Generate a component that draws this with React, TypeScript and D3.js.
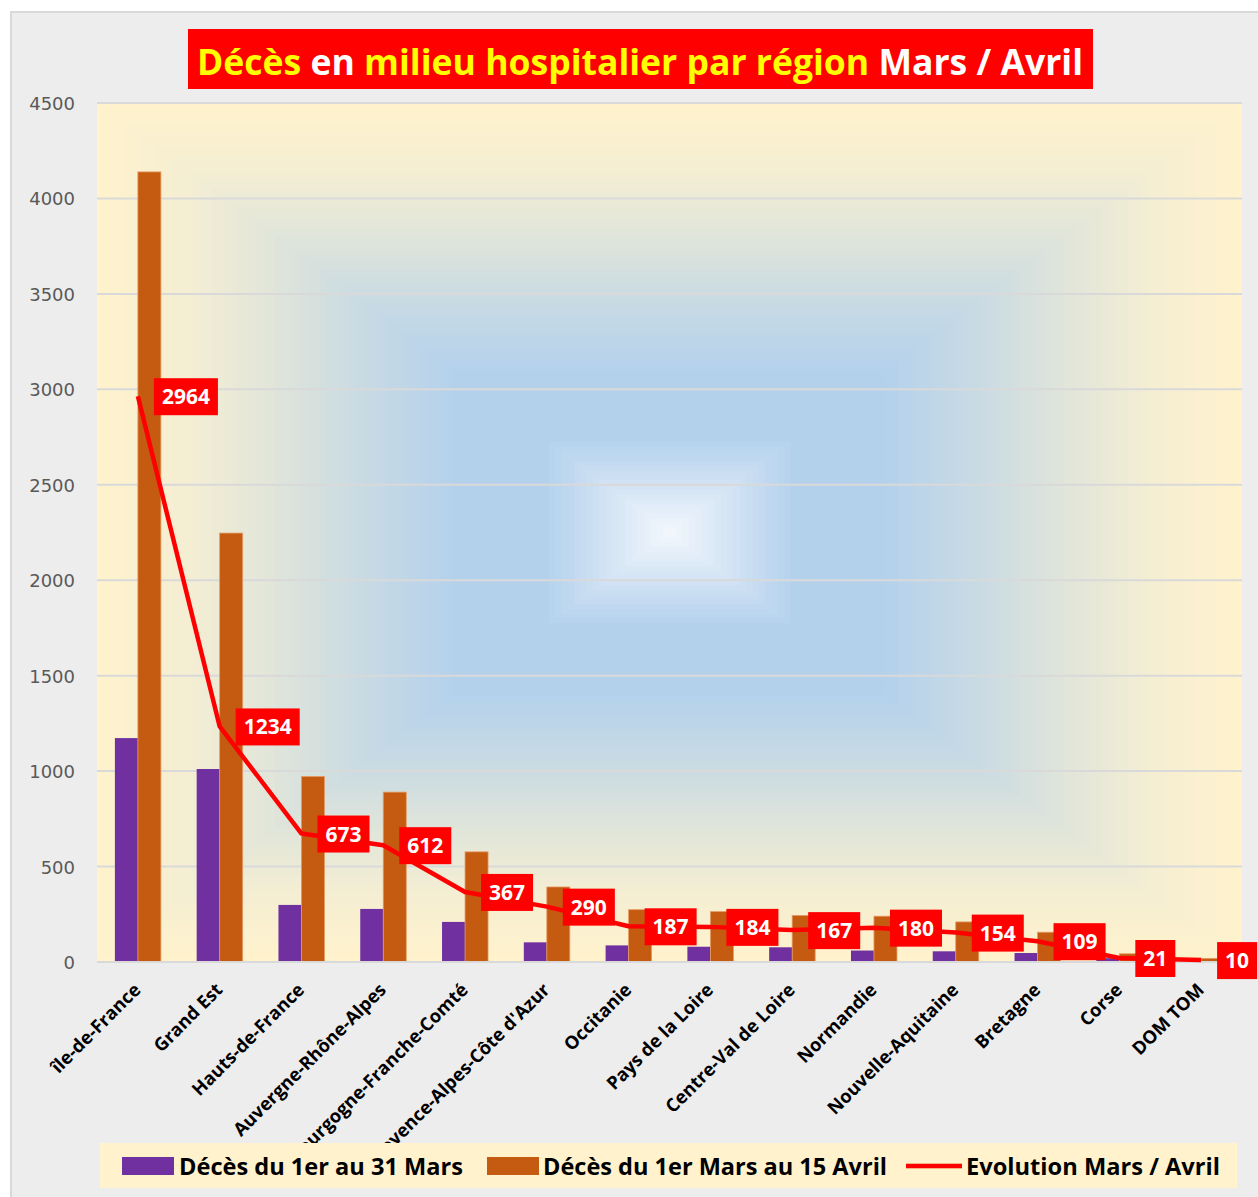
import { useEffect, useRef } from "react";
import * as d3 from "d3";

const regions = [
  "île-de-France",
  "Grand Est",
  "Hauts-de-France",
  "Auvergne-Rhône-Alpes",
  "Bourgogne-Franche-Comté",
  "Provence-Alpes-Côte d'Azur",
  "Occitanie",
  "Pays de la Loire",
  "Centre-Val de Loire",
  "Normandie",
  "Nouvelle-Aquitaine",
  "Bretagne",
  "Corse",
  "DOM TOM",
];
const decesMars = [1173, 1011, 299, 278, 210, 103, 87, 80, 77, 60, 56, 47, 20, 9];
const decesAvril = [4139, 2247, 972, 890, 577, 393, 274, 264, 244, 240, 210, 156, 43, 19];
const evolution = [2964, 1234, 673, 612, 367, 290, 187, 184, 167, 180, 154, 109, 21, 10];
const yTicks = [0, 500, 1000, 1500, 2000, 2500, 3000, 3500, 4000, 4500];

const W = 1258;
const H = 1197;
const plot = { left: 97, right: 1242, top: 103, bottom: 962 };

export default function App() {
  const svgRef = useRef<SVGSVGElement>(null);

  useEffect(() => {
    const svg = d3.select(svgRef.current);
    svg.selectAll("*").remove();

    // chart area
    svg.append("rect").attr("width", W).attr("height", H).attr("fill", "#ffffff");
    svg
      .append("rect")
      .attr("x", 11)
      .attr("y", 12)
      .attr("width", W + 10)
      .attr("height", H + 10)
      .attr("fill", "#ededed")
      .attr("stroke", "#d9d9d9")
      .attr("stroke-width", 2);

    // rectangular "from center" gradient, drawn as nested rects
    const cx = (plot.left + plot.right) / 2;
    const cy = (plot.top + plot.bottom) / 2;
    const hw = (plot.right - plot.left) / 2;
    const hh = (plot.bottom - plot.top) / 2;
    const bgColor = d3
      .scaleLinear<string>()
      .domain([0, 0.22, 0.38, 0.55, 0.7, 0.85, 1])
      .range(["#f4f8fd", "#b4d1ec", "#b4d1ec", "#c9dbe3", "#e1e5da", "#f5eed3", "#fff2cc"])
      .interpolate(d3.interpolateRgb);
    const steps = d3.range(90, 0, -1).map((i) => i / 90);
    svg
      .append("g")
      .selectAll("rect")
      .data(steps)
      .join("rect")
      .attr("x", (d) => cx - hw * d)
      .attr("y", (d) => cy - hh * d)
      .attr("width", (d) => 2 * hw * d)
      .attr("height", (d) => 2 * hh * d)
      .attr("fill", (d) => bgColor(d));

    const x = d3
      .scaleBand()
      .domain(regions)
      .range([plot.left, plot.right])
      .paddingInner(0.4375)
      .paddingOuter(0.21875);
    const y = d3.scaleLinear().domain([0, 4500]).range([plot.bottom, plot.top]);
    const center = (r: string) => (x(r) as number) + x.bandwidth() / 2;
    const half = x.bandwidth() / 2;

    // gridlines
    svg
      .append("g")
      .selectAll("line")
      .data(yTicks)
      .join("line")
      .attr("x1", plot.left)
      .attr("x2", plot.right)
      .attr("y1", (d) => y(d))
      .attr("y2", (d) => y(d))
      .attr("stroke", "#d9d9d9")
      .attr("stroke-width", 2);

    svg
      .append("g")
      .selectAll("text")
      .data(yTicks)
      .join("text")
      .attr("x", 75)
      .attr("y", (d) => y(d) + 7)
      .attr("text-anchor", "end")
      .attr("font-family", "DejaVu Sans")
      .attr("font-size", 18)
      .attr("fill", "#595959")
      .text((d) => d);

    // bars
    const bars = svg.append("g");
    bars
      .selectAll("rect.mars")
      .data(regions)
      .join("rect")
      .attr("class", "mars")
      .attr("x", (r) => x(r) as number)
      .attr("y", (r, i) => y(decesMars[i]))
      .attr("width", half)
      .attr("height", (r, i) => y(0) - y(decesMars[i]))
      .attr("fill", "#7030a0");
    bars
      .selectAll("rect.avril")
      .data(regions)
      .join("rect")
      .attr("class", "avril")
      .attr("x", (r) => center(r))
      .attr("y", (r, i) => y(decesAvril[i]))
      .attr("width", half)
      .attr("height", (r, i) => y(0) - y(decesAvril[i]))
      .attr("fill", "#c55a11")
      .attr("stroke", "#e59a63")
      .attr("stroke-width", 0.8);

    // axis line
    svg
      .append("line")
      .attr("x1", plot.left)
      .attr("x2", plot.right)
      .attr("y1", plot.bottom)
      .attr("y2", plot.bottom)
      .attr("stroke", "#d9d9d9")
      .attr("stroke-width", 2);

    // evolution line
    const line = d3
      .line<number>()
      .x((d, i) => center(regions[i]))
      .y((d) => y(d));
    svg
      .append("path")
      .datum(evolution)
      .attr("d", line)
      .attr("fill", "none")
      .attr("stroke", "#ff0000")
      .attr("stroke-width", 4.5)
      .attr("stroke-linejoin", "round");

    // data labels
    const labels = svg
      .append("g")
      .selectAll("g")
      .data(evolution)
      .join("g")
      .attr("transform", (d, i) => `translate(${center(regions[i]) + 16},${y(d)})`);
    const boxes = labels.append("rect").attr("fill", "#ff0000");
    const lt = labels
      .append("text")
      .attr("y", 8)
      .attr("font-family", "Open Sans")
      .attr("font-weight", "bold")
      .attr("font-size", 21)
      .attr("fill", "#ffffff")
      .attr("text-anchor", "middle")
      .text((d) => d);
    lt.each(function (d, i) {
      const w = (this as SVGTextElement).getComputedTextLength() + 16;
      d3.select(this).attr("x", w / 2);
      d3.select(boxes.nodes()[i]).attr("x", 0).attr("y", -18).attr("width", w).attr("height", 37);
    });

    // x labels
    svg
      .append("g")
      .selectAll("text")
      .data(regions)
      .join("text")
      .attr("transform", (r) => `translate(${center(r) + 4},${plot.bottom + 29}) rotate(-45)`)
      .attr("text-anchor", "end")
      .attr("font-family", "Open Sans")
      .attr("font-weight", "bold")
      .attr("font-size", 18.3)
      .attr("fill", "#000000")
      .text((r) => r);

    // title
    svg
      .append("rect")
      .attr("x", 188)
      .attr("y", 29)
      .attr("width", 905)
      .attr("height", 60)
      .attr("fill", "#ff0000");
    const title = svg
      .append("text")
      .attr("x", 197)
      .attr("y", 75)
      .attr("font-family", "Open Sans")
      .attr("font-weight", "bold")
      .attr("font-size", 35)
      .attr("textLength", 886)
      .attr("lengthAdjust", "spacingAndGlyphs");
    [
      ["Décès", "#ffff00"],
      [" en ", "#ffffff"],
      ["milieu hospitalier par région", "#ffff00"],
      [" Mars / Avril", "#ffffff"],
    ].forEach(([t, c]) => {
      title.append("tspan").attr("fill", c).text(t);
    });

    // legend
    const lg = svg.append("g");
    lg.append("rect")
      .attr("x", 100)
      .attr("y", 1143)
      .attr("width", 1137)
      .attr("height", 45)
      .attr("fill", "#fff2cc");
    const items = [
      { label: "Décès du 1er au 31 Mars", color: "#7030a0", type: "rect", x: 122, tx: 179, tw: 284 },
      { label: "Décès du 1er Mars au 15 Avril", color: "#c55a11", type: "rect", x: 487, tx: 543, tw: 344 },
      { label: "Evolution Mars / Avril", color: "#ff0000", type: "line", x: 906, tx: 966, tw: 254 },
    ];
    items.forEach((it) => {
      if (it.type === "rect") {
        lg.append("rect")
          .attr("x", it.x)
          .attr("y", 1157)
          .attr("width", 52)
          .attr("height", 18)
          .attr("fill", it.color);
      } else {
        lg.append("line")
          .attr("x1", it.x)
          .attr("x2", it.x + 56)
          .attr("y1", 1166)
          .attr("y2", 1166)
          .attr("stroke", "#f4b183")
          .attr("stroke-width", 6);
        lg.append("line")
          .attr("x1", it.x)
          .attr("x2", it.x + 56)
          .attr("y1", 1166)
          .attr("y2", 1166)
          .attr("stroke", it.color)
          .attr("stroke-width", 4);
      }
      lg.append("text")
        .attr("x", it.tx)
        .attr("y", 1175)
        .attr("font-family", "Open Sans")
        .attr("font-weight", "bold")
        .attr("font-size", 24)
        .attr("textLength", it.tw)
        .attr("lengthAdjust", "spacingAndGlyphs")
        .attr("fill", "#000000")
        .text(it.label);
    });
  }, []);

  return (
    <svg
      ref={svgRef}
      width={W}
      height={H}
      style={{ position: "absolute", left: 0, top: 0 }}
    ></svg>
  );
}
